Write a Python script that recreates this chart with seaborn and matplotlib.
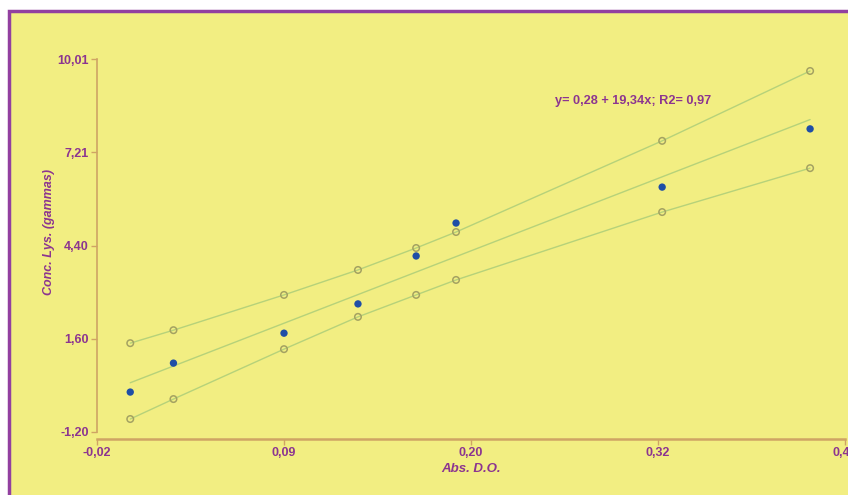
import numpy as np
import pandas as pd
import matplotlib
matplotlib.use("Agg")
import matplotlib.pyplot as plt
import seaborn as sns
from matplotlib.patches import Rectangle

# -------- DATA --------
abs_do = [0.000, 0.026, 0.0925, 0.137, 0.172, 0.196, 0.320, 0.409]
conc = [0.00, 0.87, 1.77, 2.65, 4.09, 5.08, 6.16, 7.91]
upper = [1.47, 1.86, 2.92, 3.67, 4.33, 4.81, 7.55, 9.65]
lower = [-0.81, -0.21, 1.29, 2.26, 2.92, 3.37, 5.41, 6.73]
intercept, slope, r2 = 0.28, 19.34, 0.97

x_ticks = [-0.02, 0.0925, 0.205, 0.3175, 0.43]
x_labels = ["-0,02", "0,09", "0,20", "0,32", "0,43"]
y_ticks = [-1.20, 1.6025, 4.405, 7.2075, 10.01]
y_labels = ["-1,20", "1,60", "4,40", "7,21", "10,01"]

df = pd.DataFrame({"x": abs_do, "y": conc, "up": upper, "lo": lower})
df["fit"] = intercept + slope * df["x"]

bg = "#F2EE82"
purple = "#8C3590"
axis_col = "#CFA464"
line_col = "#B6D27A"

sns.set_theme(style="white")
plt.rcParams["font.family"] = ["Liberation Sans", "DejaVu Sans"]

fig = plt.figure(figsize=(8.48, 4.95), dpi=100)
fig.patch.set_facecolor("white")
frame = Rectangle((9 / 848, -0.05), 1.1, (495 - 11) / 495 + 0.05,
                  transform=fig.transFigure, facecolor=bg,
                  edgecolor="#9240A0", linewidth=2.5, zorder=-10)
fig.add_artist(frame)

ax = fig.add_axes([97 / 848, (495 - 432) / 495, (845 - 97) / 848, (432 - 59) / 495])
ax.set_facecolor("none")

# confidence band curves + fitted line
sns.lineplot(data=df, x="x", y="up", color=line_col, linewidth=1.0, ax=ax, zorder=2)
sns.lineplot(data=df, x="x", y="lo", color=line_col, linewidth=1.0, ax=ax, zorder=2)
sns.lineplot(data=df, x="x", y="fit", color=line_col, linewidth=1.0, ax=ax, zorder=2)
for col in ["up", "lo"]:
    ax.scatter(df["x"], df[col], s=22, facecolors="none", edgecolors="#A4A262",
               linewidths=1.1, zorder=3)
sns.scatterplot(data=df, x="x", y="y", color="#1F4EA6", s=28, edgecolor="none",
                ax=ax, zorder=4)

ax.set_xlim(-0.02, 0.43)
ax.set_ylim(-1.20, 10.01)
ax.set_xticks(x_ticks)
ax.set_xticklabels(x_labels)
ax.set_yticks(y_ticks)
ax.set_yticklabels(y_labels)

for s in ["top", "right"]:
    ax.spines[s].set_visible(False)
for s in ["left", "bottom"]:
    ax.spines[s].set_color(axis_col)
ax.spines["left"].set_linewidth(1.2)
ax.spines["bottom"].set_linewidth(1.8)
ax.spines["bottom"].set_position(("outward", 5))

ax.tick_params(axis="both", colors=axis_col, length=4, width=1, direction="out",
               labelcolor=purple, labelsize=9, pad=2, bottom=True, left=True)
for lab in ax.get_xticklabels() + ax.get_yticklabels():
    lab.set_fontweight("bold")

ax.set_xlabel("Abs. D.O.", color=purple, fontsize=9.5, fontweight="bold",
              fontstyle="italic", labelpad=3)
ax.set_ylabel("Conc. Lys. (gammas)", color=purple, fontsize=9, fontweight="bold",
              fontstyle="italic")
ax.yaxis.set_label_coords(-0.056, 0.535)

eq = f"y= {intercept:.2f} + {slope:.2f}x; R2= {r2:.2f}".replace(".", ",")
ax.text(0.2556, 8.75, eq, color=purple, fontsize=9.2, fontweight="bold",
        ha="left", va="center")

fig.savefig("out.png", dpi=100, facecolor=fig.get_facecolor())
